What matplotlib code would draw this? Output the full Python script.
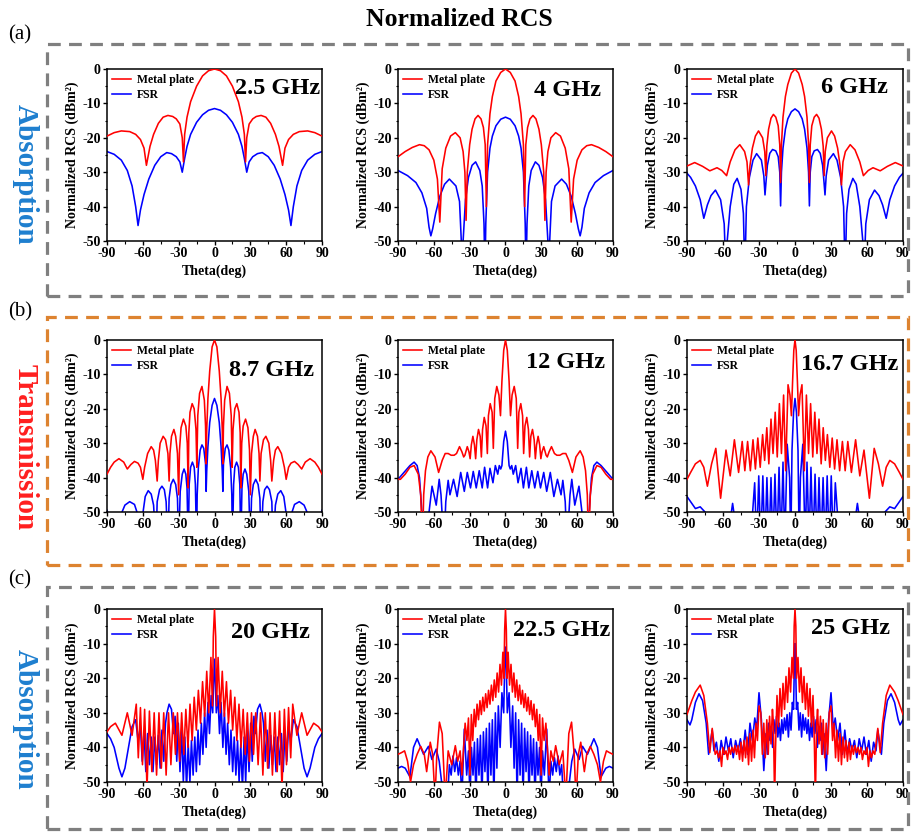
import numpy as np
import matplotlib
matplotlib.use("Agg")
import matplotlib.pyplot as plt
from matplotlib.patches import Rectangle
from matplotlib.ticker import MultipleLocator

plt.rcParams['font.family'] = ['Liberation Serif', 'DejaVu Serif']
plt.rcParams['font.weight'] = 'bold'
plt.rcParams['axes.unicode_minus'] = False

# ---------------------------------------------------------------------------
# Monostatic RCS patterns (half-plane, theta >= 0); patterns are symmetric.
# mp = metal plate, fs = FSR.  Angles in degrees, levels in dBm^2.
# ---------------------------------------------------------------------------
freq_labels = ['2.5 GHz', '4 GHz', '6 GHz', '8.7 GHz', '12 GHz', '16.7 GHz',
               '20 GHz', '22.5 GHz', '25 GHz']
series_labels = ['Metal plate', 'FSR']
row_titles = ['Absorption', 'Transmission', 'Absorption']
panel_tags = ['(a)', '(b)', '(c)']
xticks = [-90, -60, -30, 0, 30, 60, 90]
yticks = [0, -10, -20, -30, -40, -50]

# 2.5 GHz
mp25g_th = [0, 5, 10, 15, 20, 23, 25, 26, 27, 29, 32, 35, 39, 43, 47, 51, 54, 57, 59, 62, 66, 71, 78, 84, 90]
mp25g_db = [0, -0.5, -2, -5, -9.5, -14, -19, -27, -20, -16, -14.5, -13.8, -13.5, -14, -15.8, -19, -22.5, -28, -23, -20.5, -19, -18.2, -18, -18.5, -19.5]
fs25g_th = [0, 5, 10, 15, 20, 23, 25, 27, 29, 32, 36, 40, 45, 50, 55, 59, 62, 64, 66, 69, 73, 78, 84, 90]
fs25g_db = [-11.5, -12, -13.3, -15.5, -19, -22.5, -26, -30, -27, -25.5, -24.6, -24.3, -25.5, -28, -32, -36.5, -41, -45.5, -40, -34, -29.5, -26.5, -24.8, -24]

# 4 GHz
mp4_th = [0, 4, 8, 11, 13, 15, 16, 17, 18.5, 20.5, 23, 25.5, 28, 30, 32, 33, 34, 35.5, 38, 42, 46, 50, 53, 55, 57, 60, 64, 68, 72, 78, 84, 90]
mp4_db = [0, -1, -3.5, -8, -13, -22, -40, -22, -17, -14.5, -13.5, -14.5, -17.5, -22, -30, -44, -30, -24, -20, -18.5, -19.5, -23, -29, -44.5, -32, -26.5, -23.5, -22.3, -22, -22.8, -24, -25.5]
fs4_th = [0, 4, 8, 11, 13, 15, 16.5, 17.2, 18, 19.5, 21.5, 25, 28, 31, 33.5, 35.5, 36.2, 37, 38.5, 41.5, 47, 51, 55, 58.5, 61, 62.5, 64, 66, 70, 75, 82, 90]
fs4_db = [-14, -14.6, -16.5, -19.5, -23, -30, -45, -60, -45, -34, -29.5, -27, -28, -31.5, -38, -50, -60, -50, -38.5, -34, -32, -33.5, -37, -42, -46.5, -48.5, -46, -40.5, -36, -33, -31, -29.5]

# 6 GHz
mp6_th = [0, 3, 6, 8, 10, 11.3, 12, 12.7, 14, 16, 18, 20, 22, 23.5, 24.3, 25.2, 27, 30.4, 33, 35.5, 37.5, 38.7, 40, 42, 46, 50, 54, 57, 61, 65, 71, 77, 83.6, 90]
mp6_db = [0, -1.2, -4.5, -8, -14, -22, -33, -22, -16.5, -14, -13.2, -14.3, -17.5, -22.5, -31, -24, -20, -18, -19.5, -23, -28, -33.7, -27, -24, -22, -23.5, -27, -31, -29.5, -28.7, -29.6, -28.3, -27.2, -28.2]
fs6_th = [0, 3, 6, 8, 10, 11.3, 12, 12.7, 14, 16, 18.7, 21, 23, 24.2, 25, 26, 28, 32, 35, 38, 40.5, 41.8, 43, 45, 48.2, 51, 54, 56.5, 57.5, 59, 62, 66.3, 70, 73, 76, 79, 83, 87, 90]
fs6_db = [-11.6, -12.4, -14.5, -17.5, -23, -30, -39.8, -30, -25.5, -23.8, -23.4, -24.5, -28, -33, -36.6, -31, -26.5, -24.6, -26.5, -31.5, -40, -60, -42, -35, -31.8, -33.5, -40, -50, -60, -45, -38, -35.2, -36.8, -39.5, -43.4, -38, -34, -31.5, -30.3]

# 8.7 GHz
mp87_th = [0, 2, 4, 5.5, 6.5, 7, 7.5, 8.5, 10.5, 12.5, 14, 14.8, 15.5, 17, 18.7, 20.5, 21.5, 22, 22.8, 24, 26, 28, 29.3, 30, 31, 32.5, 34, 36, 37.3, 38, 39, 41, 43, 45.5, 47, 48, 49.5, 51, 53, 56, 58.5, 60, 62, 64, 67, 70, 73, 76, 80, 84, 87, 90]
mp87_db = [0, -2, -9, -17, -26, -36, -25, -17.5, -13.5, -15.5, -22, -37, -26, -20, -18.5, -21, -27, -43, -30, -25, -23, -25.5, -32, -45, -33, -28, -26, -28, -33, -41, -33, -29, -28, -30, -35, -41, -35, -32, -31, -33, -37, -40.5, -37, -35.8, -35.3, -36.2, -37.5, -35.5, -34.5, -35.5, -37, -39]
fs87_th = [0, 2, 4, 5.5, 6.5, 7, 7.5, 9, 10.5, 12, 13.5, 14.5, 15, 16, 17, 18.5, 20, 21.2, 22, 23, 24, 25.5, 27, 28.7, 30, 31, 32.5, 34.5, 36.5, 38, 39, 40.5, 42, 44, 46, 48, 49, 51, 53, 55.5, 58, 60, 61, 64, 67, 71, 75, 78, 80, 87, 90]
fs87_db = [-17, -19, -24, -31, -38, -44, -36, -31.5, -30.5, -32, -37, -45, -60, -42, -37, -35.5, -37, -42, -60, -43, -39, -37.5, -39, -44, -60, -46, -42, -40.5, -42, -46, -60, -47, -43.5, -42.5, -43.5, -47, -60, -48, -44.8, -43.8, -45.5, -50.5, -60, -51, -47.8, -47, -48, -50.5, -60, -53, -49.5]

# 12 GHz
mp12_th = [0, 1.5, 3, 4.2, 5.5, 7.3, 9, 10.2, 11.2, 12.8, 14.3, 15.2, 16.3, 17.8, 19.2, 20.2, 21.2, 22.6, 24, 25, 26, 27.3, 28.6, 29.6, 30.6, 32, 34, 35, 36.5, 38.5, 41, 43, 45.5, 48, 50.5, 53, 56, 59, 62.5, 65, 67, 68.5, 69.5, 71, 73, 76.5, 80, 84, 88, 90]
mp12_db = [0, -3, -12, -22, -16, -13.5, -17, -31.5, -21, -18.5, -22, -33, -25, -22.5, -26, -34, -28, -26, -29, -34.5, -30.5, -28, -30.5, -34.5, -32.5, -31, -33.5, -34, -32.5, -31, -33, -33.5, -33.5, -33, -33, -35, -38.5, -34, -32.2, -34, -38, -45, -60, -45, -39, -36.5, -37, -39, -40.5, -40.5]
fs12_th = [0, 1.5, 3, 4, 5.2, 6.5, 8.5, 10.5, 13, 15, 17.5, 19.5, 22, 24.5, 27, 29.3, 32, 34.5, 37.5, 40.5, 43.5, 46.5, 48, 50, 51.5, 54, 55.5, 58, 61.5, 64, 65, 68, 70, 72, 74, 76.5, 80, 85, 90]
fs12_db = [-26.5, -29.5, -36.5, -37.5, -36.5, -39, -36.5, -41.5, -37.3, -43, -37, -43, -38, -43, -38.2, -43, -38.5, -44, -38.5, -45.5, -40.5, -45, -40.8, -47, -60, -45, -40.5, -48, -42.5, -50, -60, -60, -50, -40, -36.5, -35.5, -36.5, -38.5, -40.5]

# 16.7 GHz
mp167_th = [0, 1, 2, 3, 4.2, 5.8, 7.8, 9.5, 11.3, 13, 14.8, 16.5, 18.3, 20, 21.8, 23.5, 25.3, 27, 29, 31, 33, 35, 37.2, 39.5, 41.8, 44, 47, 50.5, 54, 57.5, 62, 66, 69.5, 73, 76, 79, 83, 87, 90]
mp167_db = [0, -3, -12, -22, -16, -13, -38, -16, -33, -18.5, -34, -21, -33, -23, -36, -25.5, -35, -27.5, -37, -28.5, -37.5, -29, -38, -29.5, -38, -29.5, -38.5, -29, -39.5, -32, -46, -31.5, -36, -42.5, -37, -35, -36, -38.5, -40.5]
fs167_th = [0, 1.2, 2.5, 3.5, 4.5, 6.5, 8.5, 10, 11.7, 13.3, 15, 16.7, 18.4, 20, 21.7, 23.4, 25.1, 26.8, 28.5, 30.2, 31.9, 33.6, 35.3, 36, 50, 51, 52, 53, 54, 73, 75, 79, 83, 87, 90]
fs167_db = [-17, -21, -32, -60, -40, -30.3, -60, -35.5, -60, -37, -60, -39, -60, -40, -60, -40, -60, -39.5, -60, -39.5, -60, -41.5, -50, -60, -60, -50, -47.5, -50, -60, -60, -50, -48.5, -49, -47, -45.5]

# 20 GHz
mp20_th = [0, 1, 1.7, 3, 4.8, 6.5, 8.2, 10, 11.7, 13.5, 15.2, 17, 18.7, 20.5, 22.2, 24, 25.7, 27.5, 29.2, 31, 32.7, 34.5, 36.5, 38.5, 40.5, 42.5, 44.5, 46.5, 48.5, 50.5, 52.5, 54.5, 56.5, 58.5, 60.3, 62, 63.8, 65.5, 69, 73, 77.5, 83, 87, 90]
mp20_db = [0, -8, -28, -14, -30, -18, -31, -21, -33, -23.5, -35, -25.5, -38, -27.5, -40, -29, -42, -30, -44, -30, -42, -30, -45, -30, -48, -30, -46, -30, -48, -30, -47, -29.5, -52, -29, -45, -28.5, -43, -27.5, -36.5, -30, -36.5, -33, -34, -35.5]
fs20_th = [0, 0.8, 1.5, 2.8, 4.2, 5.5, 7, 8.3, 9.7, 11, 12.4, 13.8, 15.2, 16.5, 17.9, 19.3, 20.6, 22, 23.4, 24.8, 26.1, 27.5, 28.9, 30.3, 31.6, 33, 34.4, 36, 38, 39.8, 41, 42.5, 44, 45.5, 47, 48.5, 50, 51.5, 53, 54.5, 56, 57.5, 59, 60.5, 62, 64, 66, 69, 72, 75, 77.5, 80, 84, 87, 90]
fs20_db = [-14.5, -22, -30, -25, -36, -27, -40, -30, -42, -33, -45, -35, -47, -37, -48, -38, -50, -39, -52, -37, -50, -35, -47, -33, -44, -31, -36, -29, -27.5, -30, -33, -44, -35, -46, -36.5, -45, -37, -47, -37, -45, -36, -47, -35.5, -44, -34, -38, -32, -34, -40, -46, -48.5, -46, -40, -37.5, -36]

# 22.5 GHz
mp225_th = [0, 0.7, 1.3, 2.2, 3.4, 4.6, 5.8, 7, 8.2, 9.4, 10.6, 11.8, 13, 14.2, 15.4, 16.6, 17.8, 19, 20.2, 21.4, 22.6, 23.8, 25, 26.2, 27.4, 28.6, 29.8, 31, 32.3, 33.8, 36.5, 38, 40, 42, 45, 48, 50.5, 53, 55.3, 57.5, 59, 61, 63, 66, 68, 71, 74, 77, 79.5, 82, 84.5, 87, 90]
mp225_db = [0, -6, -20, -12.5, -22, -16, -24, -18.5, -25.5, -20.5, -26.5, -22, -27.5, -23.5, -28.5, -24.5, -29.5, -25.5, -30.5, -26.5, -32, -27.5, -34, -29, -38, -30.5, -48, -31.5, -38, -33, -48, -41, -44, -39.5, -45, -41, -55, -36, -32.7, -42, -55, -42, -38.5, -47, -42, -39.7, -42, -45, -50, -44, -41, -41.5, -42]
fs225_th = [0, 0.7, 1.5, 3, 4.5, 6, 7.2, 8.5, 9.7, 11, 12.2, 13.5, 14.7, 16, 17.2, 18.5, 19.7, 21, 22.2, 23.5, 24.7, 26, 27.2, 28.5, 29.7, 31, 32.5, 34.5, 36.5, 38, 39.5, 41, 42.5, 44, 45.5, 47, 48.5, 51.5, 53.5, 55.5, 58, 61.6, 64.5, 68.6, 74, 77, 80, 84, 87, 90]
fs225_db = [-11, -17, -30, -24.2, -40, -28, -46, -30, -55, -32, -48, -33, -55, -34.5, -47, -35.5, -55, -36.5, -48, -37.5, -55, -38.5, -48, -40, -55, -41, -48, -34.7, -55, -44, -48, -43, -47, -42.5, -48, -45, -55, -55, -50, -44, -40.5, -43.5, -39.7, -42, -37.5, -40, -48.5, -46, -45.5, -46]

# 25 GHz
mp25_th = [0, 0.7, 1.3, 2.5, 3.7, 5, 6.2, 7.5, 8.7, 10, 11.2, 12.5, 13.7, 15, 16.2, 17, 18, 18.8, 20, 21.2, 22.3, 23.5, 24.8, 26, 27.2, 28.5, 30, 31.3, 32.5, 33.8, 35, 36.2, 37.5, 38.7, 40, 41.2, 42.5, 43.7, 45, 46.2, 47.5, 48.7, 50, 51.2, 52.5, 53.7, 55, 56.2, 57.5, 58.7, 60, 61.2, 62.5, 63.7, 65, 66.5, 69, 71, 73, 76, 79, 83, 86, 90]
mp25_db = [0, -5, -20, -14, -24, -17, -27, -19.5, -29, -21.5, -31, -23, -34, -25, -40, -55, -33, -29, -39, -31, -42, -32, -43, -33, -42, -30, -28, -38, -33, -43, -35, -44, -36, -45, -37, -43, -38, -44, -38.5, -43.5, -39.5, -42, -39.5, -41.5, -40, -42, -40, -43.5, -41, -42, -40, -45.5, -41, -43, -41, -42, -34.5, -41.5, -33, -25, -22, -24, -26.5, -30.5]
fs25_th = [0, 0.6, 1.2, 2.2, 3.3, 4.4, 5.5, 6.6, 7.7, 8.8, 9.9, 11, 12.1, 13.2, 14.3, 15.4, 16.5, 17.6, 18.7, 19.8, 20.9, 22, 23.1, 24.2, 26, 28, 30, 32, 33.5, 35.5, 37.5, 39.5, 41.5, 43.5, 45.5, 47.5, 49.5, 51.5, 53.5, 55.5, 57.5, 59.5, 61.5, 63.5, 65.5, 67.5, 69, 72, 74, 77, 80, 83, 86, 87.5, 90]
fs25_db = [-10, -17, -29, -27, -35, -30, -37, -30.5, -35, -31.5, -36, -32, -38, -33, -37, -31, -36, -32, -40, -34, -38, -33, -42, -36, -46.7, -32, -24.2, -35, -31.5, -38, -33, -42, -35, -42, -37.5, -41, -38, -43, -37.5, -41, -37, -42, -38, -44, -38.5, -41, -35, -42, -33, -26.5, -24.5, -27, -32, -33.5, -32]

patterns = [
    (mp25g_th, mp25g_db, fs25g_th, fs25g_db),
    (mp4_th, mp4_db, fs4_th, fs4_db),
    (mp6_th, mp6_db, fs6_th, fs6_db),
    (mp87_th, mp87_db, fs87_th, fs87_db),
    (mp12_th, mp12_db, fs12_th, fs12_db),
    (mp167_th, mp167_db, fs167_th, fs167_db),
    (mp20_th, mp20_db, fs20_th, fs20_db),
    (mp225_th, mp225_db, fs225_th, fs225_db),
    (mp25_th, mp25_db, fs25_th, fs25_db),
]


def full_pattern(th, db):
    """Mirror a half-plane pattern (theta >= 0) onto -90..90 deg."""
    th = np.asarray(th, float)
    db = np.asarray(db, float)
    return (np.concatenate([-th[::-1], th[1:]]),
            np.concatenate([db[::-1], db[1:]]))


# ---------------------------------------------------------------------------
# Layout (pixel boxes on a 912 x 833 canvas)
# ---------------------------------------------------------------------------
W, H = 912, 833
fig = plt.figure(figsize=(W / 100, H / 100), dpi=100)

col_lr = [(107, 322), (398, 613), (687, 903)]
row_tb = [(69, 241), (340, 512), (609, 782)]
# frequency tag: (px from right spine, px from top spine)
tag_pos = [(2, 20), (12, 22), (15, 19), (8, 30), (8, 23), (5, 24),
           (12, 23), (3, 21), (13, 19)]

RED = '#ff0000'
BLUE = '#0000ff'

for k, (mth, mdb, fth, fdb) in enumerate(patterns):
    r, c = divmod(k, 3)
    l, rr = col_lr[c]
    t, b = row_tb[r]
    ax = fig.add_axes([l / W, 1 - b / H, (rr - l) / W, (b - t) / H])

    x1, y1 = full_pattern(mth, mdb)
    x2, y2 = full_pattern(fth, fdb)
    ax.plot(x1, y1, color=RED, lw=1.15, label=series_labels[0], zorder=3)
    ax.plot(x2, y2, color=BLUE, lw=1.15, label=series_labels[1], zorder=2)

    ax.set_xlim(-90, 90)
    ax.set_ylim(-50, 0)
    ax.set_xticks(xticks)
    ax.set_yticks(yticks)
    ax.xaxis.set_minor_locator(MultipleLocator(15))
    ax.yaxis.set_minor_locator(MultipleLocator(5))
    ax.tick_params(which='major', direction='out', length=3, width=1,
                   pad=1.5, labelsize=10)
    ax.tick_params(which='minor', direction='out', length=1.8, width=0.8)
    for lab in ax.get_xticklabels() + ax.get_yticklabels():
        lab.set_fontweight('bold')
    for sp in ax.spines.values():
        sp.set_linewidth(1.1)

    ax.set_xlabel('Theta(deg)', fontsize=10, fontweight='bold', labelpad=3)
    ax.set_ylabel('Normalized RCS (dBm²)', fontsize=10, fontweight='bold',
                  labelpad=2)

    ax.legend(loc='upper left', bbox_to_anchor=(0.0, 1.0), frameon=False,
              handlelength=1.6, handletextpad=0.5,
              labelspacing=0.25, borderaxespad=0.25, borderpad=0.2,
              prop={'weight': 'bold', 'size': 8.5})

    dx, dy = tag_pos[k]
    ax.text(1 - dx / (rr - l), 1 - dy / (b - t), freq_labels[k],
            transform=ax.transAxes, ha='right', va='center',
            fontsize=17.5, fontweight='bold', color='black')

# dashed group frames
frames = [(47, 44, 908, 296, '#7f7f7f'),
          (47, 317, 908, 565, '#dd8330'),
          (47, 587, 908, 829, '#7f7f7f')]
for x0, y0, x1, y1, col in frames:
    fig.add_artist(Rectangle((x0 / W, 1 - y1 / H), (x1 - x0) / W, (y1 - y0) / H,
                             transform=fig.transFigure, fill=False,
                             edgecolor=col, linewidth=2.3,
                             linestyle=(0, (4, 2.6))))

# row titles, panel tags and figure title
row_colors = ['#1e7fcf', '#ff1f1f', '#1e7fcf']
row_centers = [174, 447, 719]
for txt, col, yc in zip(row_titles, row_colors, row_centers):
    fig.text(25 / W, 1 - yc / H, txt, rotation=270, ha='center', va='center',
             fontsize=21, fontweight='bold', color=col)

for tag, yc in zip(panel_tags, [35, 312, 580]):
    fig.text(20 / W, 1 - yc / H, tag, ha='center', va='center',
             fontsize=15, fontweight='normal')

fig.text(459 / W, 1 - 19 / H, 'Normalized RCS', ha='center', va='center',
         fontsize=18.5, fontweight='bold')

fig.savefig('out.png', dpi=100)
